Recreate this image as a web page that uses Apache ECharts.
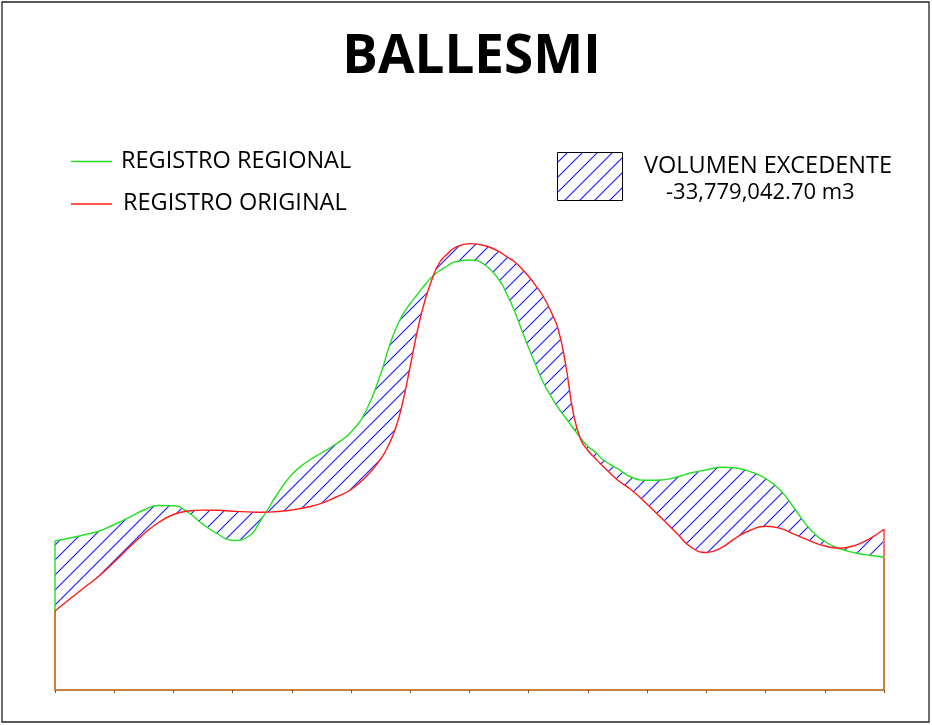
<!DOCTYPE html>
<html>
<head>
<meta charset="utf-8">
<script src="https://cdn.jsdelivr.net/npm/echarts@6/dist/echarts.min.js"></script>
<style>
html,body{margin:0;padding:0;background:#fff;}
#c{width:932px;height:725px;}
</style>
</head>
<body>
<div id="c"></div>
<script>
// Distance along the profile (m)
const distance = [0,250,500,750,1000,1250,1500,1750,2000,2250,2500,2750,3000,3250,3500,3750,4000,4250,4500,4750,5000,5250,5500,5625,5750,5875,6000,6125,6250,6375,6500,6625,6750,7000,7250,7500,7625,7750,7875,8000,8125,8250,8375,8500,8625,8750,8875,9000,9125,9250,9500,9750,10000,10250,10500,10750,11000,11250,11500,11750,12000,12250,12500,12750,13000,13250,13500,13750,14000];

// REGISTRO REGIONAL (green)
const regional = [149,152,155.3,159,165.5,172.5,180,184.5,184.2,177.5,165.5,156,149.5,153,172,195.5,215.5,228,237,246.3,258,279,316,340,360.5,375.6,386.5,396,405.5,413.6,419.5,424,428,430,425.5,410,396.6,380.5,361,342,324,307,293.8,282,272,262,252,243.5,238,230.5,221.3,212.5,209.7,210,213,217.2,220.2,222.7,222,218.2,211.5,199.8,180.5,161,148.5,141.5,137.2,134.7,132.7];

// REGISTRO ORIGINAL (red)
const original = [79,91,102.7,114.2,128,142.4,156,167.5,175.5,179,179.9,179.7,178.8,178.1,177.7,178.5,180,182.7,186.7,193,200.5,213,231,244,261.5,288.5,324,360.5,390,412,428,436,442.2,446.4,444.5,438.5,433.3,428.7,421.7,413.5,403.8,393,378.5,360.3,325,278,251,239.5,231.5,224,210,199.3,185.8,171.5,156.7,142.5,137.5,142.2,152.2,160,163.8,161.6,155.4,149.2,144,141.8,144.4,151,160.7];

const titleText = 'BALLESMI';
const legendNames = ['REGISTRO REGIONAL', 'REGISTRO ORIGINAL'];
const volumeLabel = 'VOLUMEN EXCEDENTE';
const volumeValue = '-33,779,042.70 m3';

const GREEN = '#22e022';
const RED = '#ff1a1a';
const BROWN = '#c8843c';
const BLUE = '#1a1aff';
const FONT = "'Open Sans', 'Noto Sans', sans-serif";
const SMOOTH = 0.5;

const regionalData = distance.map((d, i) => [d, regional[i]]);
const originalData = distance.map((d, i) => [d, original[i]]);

// hatch pattern
const pc = document.createElement('canvas');
pc.width = 15; pc.height = 15;
const pctx = pc.getContext('2d');
pctx.strokeStyle = BLUE;
pctx.lineWidth = 1.1;
pctx.beginPath();
pctx.moveTo(-2, 17); pctx.lineTo(17, -2);
pctx.moveTo(-2, 2); pctx.lineTo(2, -2);
pctx.moveTo(13, 17); pctx.lineTo(17, 13);
pctx.stroke();
const hatch = { image: pc, repeat: 'repeat' };

function clamp(v, a, b) { return Math.max(Math.min(v, Math.max(a, b)), Math.min(a, b)); }

function smoothSegs(pts, smooth) {
  const segs = [];
  let cpx0 = pts[0][0], cpy0 = pts[0][1];
  let prevX = pts[0][0], prevY = pts[0][1];
  const n = pts.length;
  for (let i = 1; i < n; i++) {
    const x = pts[i][0], y = pts[i][1];
    let cpx1, cpy1, nx0, ny0;
    if (i === n - 1) { cpx1 = x; cpy1 = y; nx0 = x; ny0 = y; }
    else {
      const nextX = pts[i + 1][0], nextY = pts[i + 1][1];
      let vx = nextX - prevX, vy = nextY - prevY;
      const lenPrev = Math.hypot(x - prevX, y - prevY);
      const lenNext = Math.hypot(nextX - x, nextY - y);
      const ratio = lenNext / (lenNext + lenPrev);
      nx0 = clamp(x + vx * smooth * ratio, nextX, x);
      ny0 = clamp(y + vy * smooth * ratio, nextY, y);
      vx = nx0 - x; vy = ny0 - y;
      cpx1 = clamp(x - vx * lenPrev / lenNext, prevX, x);
      cpy1 = clamp(y - vy * lenPrev / lenNext, prevY, y);
      vx = x - cpx1; vy = y - cpy1;
      nx0 = x + vx * lenNext / lenPrev;
      ny0 = y + vy * lenNext / lenPrev;
    }
    segs.push([prevX, prevY, cpx0, cpy0, cpx1, cpy1, x, y]);
    cpx0 = nx0; cpy0 = ny0;
    prevX = x; prevY = y;
  }
  return segs;
}

function renderBand(params, api) {
  const g = regionalData.map(p => api.coord(p));
  const r = originalData.map(p => api.coord(p));
  const gs = smoothSegs(g, SMOOTH);
  const rs = smoothSegs(r, SMOOTH);
  let d = 'M' + g[0][0] + ' ' + g[0][1];
  gs.forEach(s => { d += 'C' + s[2] + ' ' + s[3] + ' ' + s[4] + ' ' + s[5] + ' ' + s[6] + ' ' + s[7]; });
  const rl = r[r.length - 1];
  d += 'L' + rl[0] + ' ' + rl[1];
  for (let k = rs.length - 1; k >= 0; k--) {
    const s = rs[k];
    d += 'C' + s[4] + ' ' + s[5] + ' ' + s[2] + ' ' + s[3] + ' ' + s[0] + ' ' + s[1];
  }
  d += 'Z';
  const children = [{
    type: 'path', shape: { pathData: d }, style: { fill: hatch, stroke: null }, z2: 1
  }];
  function edge(idx) {
    const x = distance[idx];
    const gv = regional[idx], rv = original[idx];
    const base = api.coord([x, 0]);
    const lower = api.coord([x, Math.min(gv, rv)]);
    const upper = api.coord([x, Math.max(gv, rv)]);
    const upColor = gv > rv ? GREEN : '#ff7070';
    children.push({ type: 'line', shape: { x1: base[0], y1: base[1], x2: lower[0], y2: lower[1] }, style: { stroke: BROWN, lineWidth: 2 }, z2: 3 });
    children.push({ type: 'line', shape: { x1: upper[0], y1: upper[1], x2: lower[0], y2: lower[1] }, style: { stroke: upColor, lineWidth: gv > rv ? 1.4 : 2 }, z2: 3 });
  }
  edge(0);
  edge(distance.length - 1);
  return { type: 'group', children };
}

const chart = echarts.init(document.getElementById('c'), null, { renderer: 'canvas' });
chart.setOption({
  backgroundColor: '#ffffff',
  animation: false,
  grid: { left: 55, right: 48, top: 90, bottom: 35 },
  xAxis: {
    type: 'value', min: 0, max: 14000, interval: 1000,
    axisLine: { show: true, onZero: false, lineStyle: { color: BROWN, width: 2 } },
    axisTick: { show: true, length: 3, lineStyle: { color: '#8a5424', width: 1 } },
    axisLabel: { show: false }, splitLine: { show: false }, z: 5
  },
  yAxis: { type: 'value', min: 0, max: 600, show: false },
  series: [
    { type: 'custom', name: 'band', coordinateSystem: 'cartesian2d', data: [[0, 0]], renderItem: renderBand, silent: true, z: 1, clip: false },
    { type: 'line', name: legendNames[0], data: regionalData, smooth: SMOOTH, symbol: 'none', lineStyle: { color: GREEN, width: 1.4 }, z: 3, silent: true },
    { type: 'line', name: legendNames[1], data: originalData, smooth: SMOOTH, symbol: 'none', lineStyle: { color: RED, width: 1.4 }, z: 4, silent: true }
  ],
  graphic: [
    { type: 'rect', shape: { x: 2, y: 2, width: 927, height: 720 }, style: { fill: null, stroke: '#222', lineWidth: 1.3 }, silent: true },
    { type: 'text', x: 471.5, y: 58, style: { text: titleText, font: "bold 53px " + FONT, fill: '#000', textAlign: 'center', textVerticalAlign: 'middle' } },
    { type: 'line', shape: { x1: 71, y1: 161.5, x2: 112, y2: 161.5 }, style: { stroke: GREEN, lineWidth: 1.3 } },
    { type: 'text', x: 121, y: 161.4, style: { text: legendNames[0], font: "23.5px " + FONT, fill: '#000', textAlign: 'left', textVerticalAlign: 'middle' } },
    { type: 'line', shape: { x1: 71, y1: 204, x2: 112, y2: 204 }, style: { stroke: RED, lineWidth: 1.3 } },
    { type: 'text', x: 123, y: 203.4, style: { text: legendNames[1], font: "23.5px " + FONT, fill: '#000', textAlign: 'left', textVerticalAlign: 'middle' } },
    { type: 'rect', shape: { x: 557.5, y: 152.5, width: 65, height: 48 }, style: { fill: hatch, stroke: '#000', lineWidth: 1 } },
    { type: 'text', x: 644, y: 166, style: { text: volumeLabel, font: "23.5px " + FONT, fill: '#000', textAlign: 'left', textVerticalAlign: 'middle' } },
    { type: 'text', x: 666, y: 192.5, style: { text: volumeValue, font: "22px " + FONT, fill: '#000', textAlign: 'left', textVerticalAlign: 'middle' } }
  ]
});
</script>
</body>
</html>
